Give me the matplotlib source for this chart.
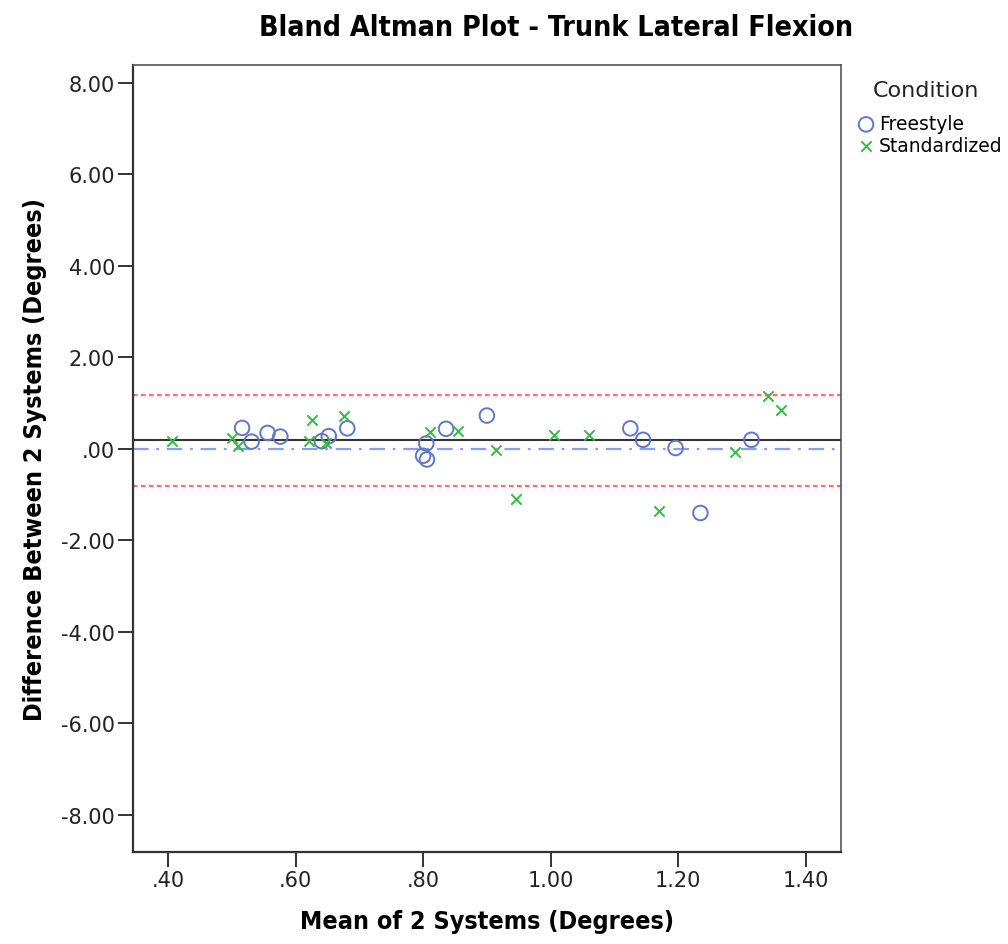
import numpy as np
import matplotlib.pyplot as plt

# ---- Datos (media vs diferencia) ----
free_mean = [0.516, 0.531, 0.556, 0.576, 0.641, 0.652, 0.681, 0.805, 0.800,
             0.806, 0.836, 0.900, 1.125, 1.145, 1.196, 1.235, 1.315]
free_diff = [0.46, 0.16, 0.35, 0.27, 0.17, 0.28, 0.45, 0.12, -0.15,
             -0.23, 0.44, 0.73, 0.45, 0.20, 0.02, -1.40, 0.20]

std_mean = [0.406, 0.500, 0.510, 0.626, 0.621, 0.647, 0.676, 0.811, 0.855,
            0.915, 0.945, 1.005, 1.060, 1.170, 1.290, 1.341, 1.361]
std_diff = [0.17, 0.23, 0.07, 0.63, 0.17, 0.12, 0.71, 0.36, 0.39,
            -0.02, -1.09, 0.31, 0.31, -1.36, -0.06, 1.15, 0.85]

# ---- Líneas de referencia ----
bias = 0.19
loa_upper = 1.19
loa_lower = -0.81
zero_line = 0.0

x_ticks = [0.40, 0.60, 0.80, 1.00, 1.20, 1.40]
y_ticks = [-8, -6, -4, -2, 0, 2, 4, 6, 8]


def spss_fmt(v):
    s = f"{v:.2f}"
    if s.startswith("0"):
        s = s[1:]
    elif s.startswith("-0"):
        s = "-" + s[2:]
    return s


cond = dict(family='DejaVu Sans', fontstretch='condensed', fontweight='bold')

fig = plt.figure(figsize=(10.08, 9.45), dpi=100)
ax = fig.add_axes([0.132, 0.0974, 0.702, 0.8326])

# ---- Líneas horizontales ----
ax.axhline(loa_upper, color='#ff6b6b', lw=1.6, linestyle=(0, (2, 1.6)), zorder=1)
ax.axhline(loa_lower, color='#ff6b6b', lw=1.6, linestyle=(0, (2, 1.6)), zorder=1)
ax.axhline(zero_line, color='#8c9cf4', lw=1.6, linestyle=(0, (7, 3.5, 1.2, 3.5)), zorder=1)
ax.axhline(bias, color='#333333', lw=1.5, zorder=2)

# ---- Puntos ----
ax.scatter(free_mean, free_diff, s=110, facecolors='none', edgecolors='#5f77c9',
           linewidths=1.4, label='Freestyle', zorder=3)
ax.scatter(std_mean, std_diff, s=55, marker='x', color='#33bb44',
           linewidths=1.4, label='Standardized', zorder=3)

ax.set_xlim(0.345, 1.455)
ax.set_ylim(-8.81, 8.39)
ax.set_xticks(x_ticks)
ax.set_xticklabels([spss_fmt(v) for v in x_ticks])
ax.set_yticks(y_ticks)
ax.set_yticklabels([spss_fmt(v) for v in y_ticks])
ax.tick_params(axis='both', length=11, width=1.4, color='#333333',
               labelsize=15, labelcolor='#222222', pad=2)

for side in ['left', 'bottom']:
    ax.spines[side].set_linewidth(1.6)
    ax.spines[side].set_color('#333333')
for side in ['top', 'right']:
    ax.spines[side].set_linewidth(1.2)
    ax.spines[side].set_color('#555555')

ax.set_xlabel('Mean of 2 Systems (Degrees)', fontsize=18, labelpad=14, **cond)
ax.set_ylabel('Difference Between 2 Systems (Degrees)', fontsize=18,
              labelpad=10, **cond)

fig.text(0.552, 0.970, 'Bland Altman Plot - Trunk Lateral Flexion', ha='center',
         va='center', fontsize=20.5, **cond)

# ---- Leyenda (título aparte para ubicarlo como en SPSS) ----
fig.text(0.866, 0.904, 'Condition', ha='left', va='center', fontsize=16,
         color='#222222')
leg = ax.legend(loc='upper left', bbox_to_anchor=(0.848, 0.878),
                bbox_transform=fig.transFigure, frameon=False,
                fontsize=13.5, handletextpad=0.1, borderaxespad=0,
                borderpad=0, handlelength=1.2, labelspacing=0.15)

fig.savefig('out.png', dpi=100)
